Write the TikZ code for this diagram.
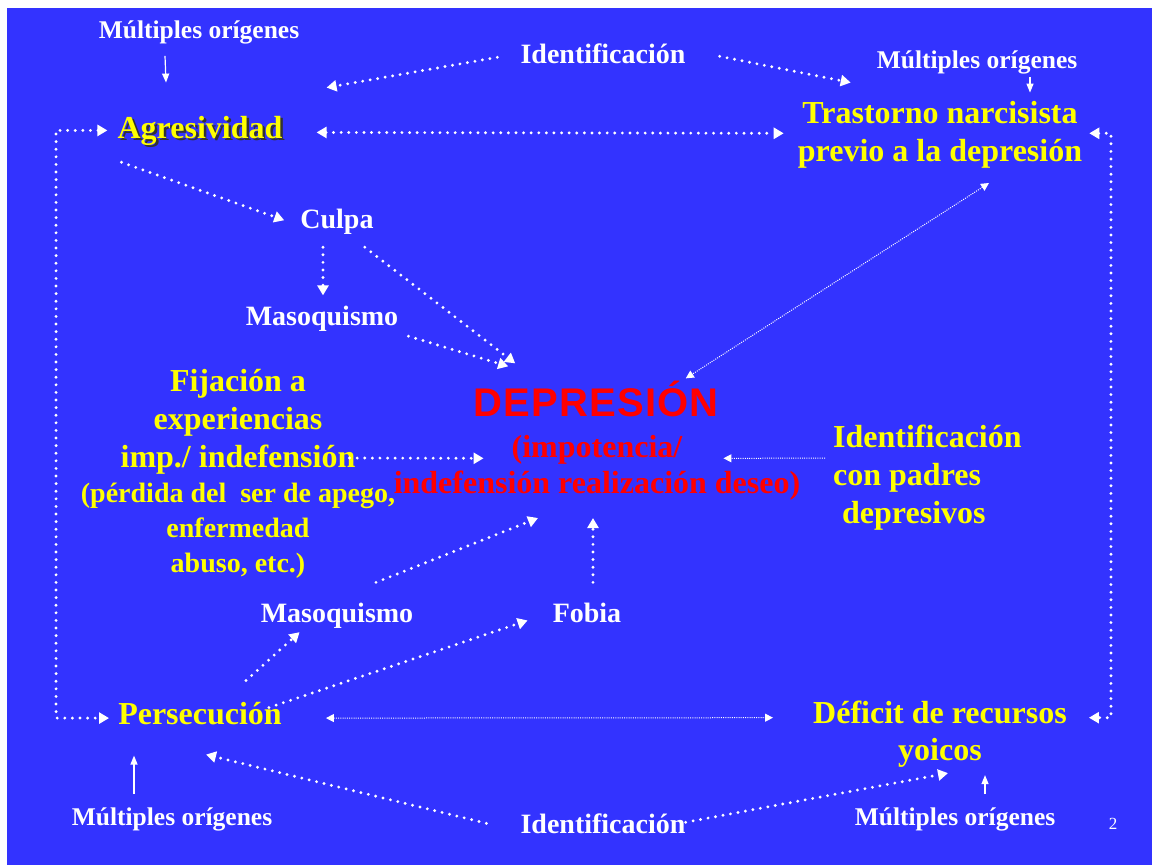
\documentclass[tikz,border=0pt]{standalone}
\usepackage{fontspec}
\setmainfont{Liberation Serif}
\newfontfamily\arialfont{Liberation Sans}[LetterSpace=3.0]
\usepackage{tikz}
\usetikzlibrary{arrows.meta,calc}
\definecolor{azulfondo}{RGB}{51,51,255}
\definecolor{amarilloc}{RGB}{255,255,0}
\definecolor{rojoc}{RGB}{255,0,0}
\tikzstyle{texto} = [inner sep=0pt, anchor=base, align=center]
\tikzstyle{amarillo} = [texto, text=amarilloc, font=\bfseries\fontsize{32}{38}\selectfont]
\tikzstyle{amarillochico} = [texto, text=amarilloc, font=\bfseries\fontsize{28}{35}\selectfont]
\tikzstyle{blanco} = [texto, text=white, font=\bfseries\fontsize{28}{34}\selectfont]
\tikzstyle{origen} = [texto, text=white, font=\bfseries\fontsize{25.5}{30}\selectfont]
\tikzstyle{rojo} = [texto, text=rojoc, font=\bfseries\fontsize{32}{36}\selectfont]
\tikzstyle{titulo} = [texto, text=rojoc, font=\arialfont\bfseries\fontsize{40}{44}\selectfont]
\tikzstyle{punteado} = [draw, white, line width=3.2pt, line cap=round,
  dash pattern=on 0pt off 7.6pt]
\tikzstyle{flecha} = [punteado, -{Triangle[length=10pt,width=11pt]}]
\tikzstyle{dobleflecha} = [punteado,
  {Triangle[length=10pt,width=11pt]}-{Triangle[length=10pt,width=11pt]}]
\tikzstyle{fino} = [draw, white, line width=1pt, dash pattern=on 1pt off 1.2pt,
  {Triangle[length=8pt,width=8pt]}-{Triangle[length=8pt,width=8pt]}]
\tikzstyle{solido} = [draw, white, line width=1.2pt,
  -{Triangle[length=9pt,width=7pt]}]

\begin{document}
\begin{tikzpicture}[x=1pt,y=-1pt]

  % Fondo de la diapositiva
\useasboundingbox (0,0) rectangle (1152,865);
\fill[white] (0,0) rectangle (1152,865);
\fill[azulfondo] (7,8) rectangle (1152,865);

  % Nodos (el ancla base queda en la ultima linea)
\path (199,38) node (mo1) [origen] {Múltiples orígenes};
\path (202.5,140.5) node (agrs) [amarillo, text=black!80] {Agresividad};
\path (200,138) node (agr) [amarillo] {Agresividad};
\path (603,63) node (id1) [blanco] {Identificación};
\path (977,68) node (mo2) [origen] {Múltiples orígenes};
\path (940,161) node (tras) [amarillo] {Trastorno narcisista\\previo a la depresión};
\path (337,228) node (culpa) [blanco] {Culpa};
\path (322,325) node (maso1) [blanco] {Masoquismo};
\path (596,416) node (dep) [titulo] {DEPRESIÓN};
\path (597,493) node (deps) [rojo] {(impotencia/\\indefensión realización deseo)};
\path (238,467) node (fija) [amarillo] {Fijación a\\experiencias\\imp./ indefensión};
\path (238,572) node (fijb) [amarillochico] {(pérdida del\ \ ser de apego,\\enfermedad\\abuso, etc.)};
\path (833,523) node (idp) [amarillo, anchor=base west, align=left]
  {Identificación\\con padres\\\hspace*{9pt}depresivos};
\path (337,622) node (maso2) [blanco] {Masoquismo};
\path (587,622) node (fobia) [blanco] {Fobia};
\path (200,724) node (pers) [amarillo] {Persecución};
\path (940,760) node (def) [amarillo, font=\bfseries\fontsize{32}{37}\selectfont] {Déficit de recursos\\yoicos};
\path (172,825) node (mo3) [origen] {Múltiples orígenes};
\path (603,833) node (id2) [blanco] {Identificación};
\path (955,825) node (mo4) [origen] {Múltiples orígenes};
\path (1113,829) node (num) [texto, text=white, font=\fontsize{17}{20}\selectfont] {2};

  % Flechas de la parte superior
\path [solido] ($(mo1.south)+(-34,12)$) -- ($(agr.north)+(-34,-33)$);
\path [solido] ($(mo2.south)+(53,3)$) -- ($(tras.north)+(90,-8)$);
\path [flecha] ($(id1.west)+(-23,4)$) -- ($(agr.north east)+(44,-28)$);
\path [flecha] ($(id1.east)+(34,3)$) -- ($(tras.north west)+(53,-18)$);
\path [dobleflecha] ($(agr.east)+(34,2)$) -- ($(tras.west)+(-14,-1)$);

  % Lazos laterales
\path [dobleflecha] ($(agr.west)+(-10,0)$) -| ($(pers.west)+(-62,5)$)
  -- ($(pers.west)+(-9,5)$);
\path [dobleflecha] ($(tras.east)+(7,-1)$) -| ($(def.east)+(44,-16)$)
  -- ($(def.east)+(22,-16)$);

  % Hacia la depresion
\path [flecha] ($(agr.south west)+(4,17)$) -- ($(culpa.west)+(-16,-1)$);
\path [flecha] ($(culpa.south)+(-14,13)$) -- ($(maso1.north)+(1,-10)$);
\path [flecha] ($(culpa.south east)+(-9,13)$) -- ($(dep.north west)+(42,-17)$);
\path [flecha] ($(maso1.south east)+(10,5)$) -- ($(dep.north west)+(35,-14)$);
\path [fino] ($(tras.south)+(49,15)$) -- ($(dep.north east)+(-33,-2)$);
\path [flecha] ($(fija.south east)+(-6,-16)$) -- ($(deps.west)+(90,-9)$);
\path [fino, -{Triangle[length=8pt,width=8pt]}] ($(idp.west)+(-8,-19)$) -- ($(deps.east)+(-77,-9)$);
\path [flecha] ($(maso2.north)+(39,-20)$) -- ($(deps.south)+(-59,18)$);
\path [flecha] ($(fobia.north)+(6,-20)$) -- ($(deps.south)+(-4,18)$);

  % Parte inferior
\path [flecha] ($(pers.north)+(46,-21)$) -- ($(maso2.south west)+(39,4)$);
\path [flecha] ($(pers.north east)+(-13,6)$) -- ($(fobia.west)+(-25,8)$);
\path [fino] ($(pers.east)+(44,5)$) -- ($(def.west)+(-40,-16)$);
\path [solido] ($(mo3.north)+(-38,-13)$) -- ($(pers.south)+(-66,31)$);
\path [flecha] ($(id2.west)+(-34,0)$) -- ($(pers.south)+(6,30)$);
\path [flecha] ($(id2.east)+(0,-1)$) -- ($(def.south)+(8,6)$);
\path [solido] ($(mo4.north)+(30,-13)$) -- ($(def.south)+(45,8)$);
\end{tikzpicture}
\end{document}
